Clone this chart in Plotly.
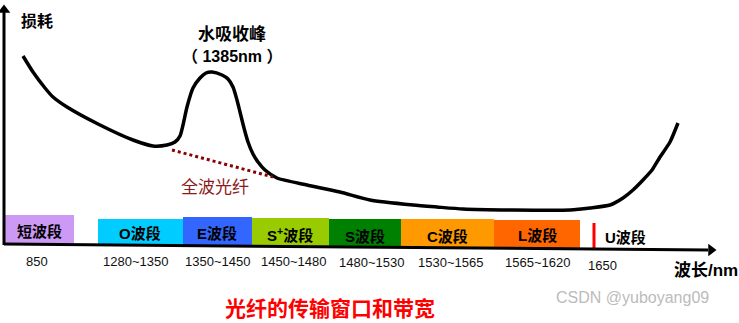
import plotly.graph_objects as go

# ---------------- data (diagram coordinates) ----------------
curve_x = [23, 33, 45, 53, 67, 100, 133, 153, 167, 175, 180, 183, 187, 193, 200, 206, 212, 222, 228, 233,
           237, 240, 244, 248, 253, 258, 265, 277, 307, 340, 370, 413, 437, 463, 513, 570, 590, 610, 623,
           633, 643, 652, 660, 670, 678]
curve_y = [56, 72, 88, 97, 107, 125, 140, 146, 145, 142, 136, 125, 107, 88, 78, 73, 72, 75, 79, 87,
           100, 112, 128, 142, 154, 162, 170, 178, 185, 192, 200, 205, 207, 209, 210, 210, 208, 205, 198,
           190, 180, 170, 157, 142, 123]

allwave_x = [172, 273]
allwave_y = [150, 177]

band_labels = ["短波段", "O波段", "E波段", "S<sup>+</sup>波段", "S波段", "C波段", "L波段"]
band_x0 = [5, 98, 183, 252, 329, 401, 494]
band_x1 = [74, 183, 252, 329, 401, 494, 580]
band_top = [215, 219, 217, 218, 219, 219, 220]
band_bottom = [243, 245, 245, 246, 247, 248, 248]
band_colors = ["#CC99F5", "#00CCFF", "#3366FF", "#99CC00", "#008000", "#FF9900", "#FF6600"]
band_text_x = [39, 140, 217, 290, 365, 447, 537]
band_text_y = [231, 233, 233, 234, 236, 236, 235]

range_labels = ["850", "1280~1350", "1350~1450", "1450~1480", "1480~1530", "1530~1565", "1565~1620", "1650"]
range_x = [37, 135, 217, 293, 371, 450, 537, 602]
range_y = [261, 261, 261, 261, 262, 262, 262, 265]

u_line_x = [594, 594]
u_line_y = [223, 248]

# axis lines and arrow tips
yaxis_line_x = [4, 4]
yaxis_line_y = [245, 12]
xaxis_line_x = [4, 708]
xaxis_line_y = [244, 250]
arrow_up = (4, 10)
arrow_right = (711, 250)

FONT = "Liberation Sans, Arial, Noto Sans CJK SC, sans-serif"

fig = go.Figure()

# loss curve
fig.add_trace(go.Scatter(x=curve_x, y=curve_y, mode="lines",
                         line=dict(color="black", width=3.5, shape="spline", smoothing=0.6),
                         hoverinfo="skip"))
# all-wave fiber dotted line
fig.add_trace(go.Scatter(x=allwave_x, y=allwave_y, mode="lines",
                         line=dict(color="#8B0000", width=3, dash="dot"), hoverinfo="skip"))
# U band red marker
fig.add_trace(go.Scatter(x=u_line_x, y=u_line_y, mode="lines",
                         line=dict(color="#FF0000", width=3), hoverinfo="skip"))
# axes
fig.add_trace(go.Scatter(x=yaxis_line_x, y=yaxis_line_y, mode="lines",
                         line=dict(color="black", width=3), hoverinfo="skip"))
fig.add_trace(go.Scatter(x=xaxis_line_x, y=xaxis_line_y, mode="lines",
                         line=dict(color="black", width=3), hoverinfo="skip"))
fig.add_trace(go.Scatter(x=[arrow_up[0]], y=[arrow_up[1]], mode="markers",
                         marker=dict(symbol="triangle-up", size=11, color="black"), hoverinfo="skip"))
fig.add_trace(go.Scatter(x=[arrow_right[0]], y=[arrow_right[1]], mode="markers",
                         marker=dict(symbol="triangle-right", size=11, color="black"), hoverinfo="skip"))

shapes = []
for x0, x1, t, b, c in zip(band_x0, band_x1, band_top, band_bottom, band_colors):
    shapes.append(dict(type="rect", xref="x", yref="y", x0=x0, x1=x1, y0=t, y1=b,
                       fillcolor=c, line=dict(width=0), layer="below"))

annotations = []
for lab, tx, ty in zip(band_labels, band_text_x, band_text_y):
    annotations.append(dict(x=tx, y=ty, text="<b>" + lab + "</b>", showarrow=False,
                            font=dict(family=FONT, size=15, color="black")))
annotations.append(dict(x=625, y=237, text="<b>U波段</b>", showarrow=False,
                        font=dict(family=FONT, size=15, color="black")))

for lab, tx, ty in zip(range_labels, range_x, range_y):
    annotations.append(dict(x=tx, y=ty, text=lab, showarrow=False,
                            font=dict(family=FONT, size=13, color="#111111")))

annotations += [
    dict(x=37, y=21, text="<b>损耗</b>", showarrow=False, font=dict(family=FONT, size=16, color="black")),
    dict(x=232, y=34, text="<b>水吸收峰</b>", showarrow=False, font=dict(family=FONT, size=17, color="black")),
    dict(x=232, y=56, text="<b>（ 1385nm ）</b>", showarrow=False, font=dict(family=FONT, size=16, color="black")),
    dict(x=215, y=187, text="全波光纤", showarrow=False, font=dict(family=FONT, size=17, color="#8B1A1A")),
    dict(x=706, y=270, text="<b>波长/nm</b>", showarrow=False, font=dict(family=FONT, size=17, color="black")),
    dict(x=330, y=308, text="<b>光纤的传输窗口和带宽</b>", showarrow=False, borderpad=0,
         font=dict(family=FONT, size=21, color="#FF0000")),
    dict(x=632, y=297, text="CSDN @yuboyang09", showarrow=False,
         font=dict(family="Liberation Sans, Arial, sans-serif", size=16, color="#BBBBBB")),
]

fig.update_layout(
    width=739, height=323, margin=dict(l=0, r=0, t=0, b=0),
    paper_bgcolor="white", plot_bgcolor="white", showlegend=False,
    xaxis=dict(range=[0, 739], visible=False, fixedrange=True),
    yaxis=dict(range=[323, 0], visible=False, fixedrange=True),
    shapes=shapes, annotations=annotations,
)

fig.write_html("out.html")
